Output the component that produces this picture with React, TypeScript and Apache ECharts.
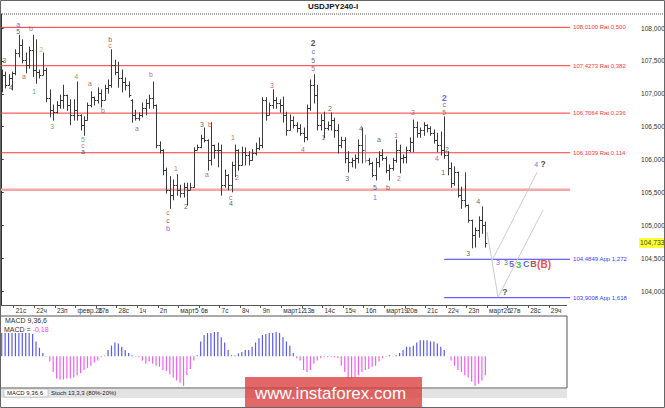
import React, { useEffect, useRef } from "react";
import * as echarts from "echarts";

const FONT = '"Liberation Sans", "DejaVu Sans", sans-serif';

// 4H bars of USDJPY, index 0 = Feb 20 evening ... 141 = Mar 23 20:00
const barOpen = [
  107.09, 107.29, 107.13, 107.24, 107.32, 107.62, 107.74, 107.51, 107.44, 107.67,
  107.36, 107.33, 107.29, 107.36, 106.94, 106.75, 106.72, 106.83, 106.91, 106.98,
  106.83, 106.68, 106.75, 106.68, 106.53, 106.6, 106.83, 106.95, 106.91, 107.01,
  106.91, 107.09, 107.13, 107.44, 107.33, 107.24, 107.18, 107.13, 106.91, 106.68,
  106.63, 106.68, 106.78, 106.86, 106.94, 106.83, 106.22, 106.15, 105.84, 105.54,
  105.46, 105.61, 105.54, 105.49, 105.58, 105.54, 105.58, 106.15, 106.19, 106.33,
  106.3, 105.99, 106.22, 106.15, 106.15, 105.61, 105.77, 105.61, 105.92, 106.15,
  105.92, 106.12, 106.07, 105.99, 106.1, 106.18, 106.22, 106.91, 106.68, 106.83,
  106.91, 106.86, 106.83, 106.68, 106.45, 106.6, 106.53, 106.48, 106.4, 106.34,
  106.78, 107.13, 106.98, 106.53, 106.6, 106.48, 106.53, 106.6, 106.45, 106.22,
  106.3, 106.02, 105.96, 105.99, 106.02, 106.22, 106.15, 105.99, 105.95, 105.77,
  105.96, 106.07, 106.02, 105.84, 105.87, 105.99, 106.15, 106.02, 106.04, 106.15,
  106.27, 106.5, 106.4, 106.45, 106.53, 106.48, 106.4, 106.3, 106.22, 106.15,
  106.07, 105.87, 105.64, 105.81, 105.46, 105.39, 105.31, 105.08, 104.85, 104.93,
  105.08, 105.01,
];
const barHigh = [
  107.36, 107.33, 107.29, 107.33, 107.67, 107.89, 107.82, 107.62, 107.71, 107.89,
  107.82, 107.36, 107.62, 107.39, 107.06, 106.83, 106.88, 106.98, 107.13, 106.98,
  106.91, 106.91, 107.18, 106.68, 106.65, 106.86, 107.03, 106.95, 107.09, 107.06,
  107.13, 107.21, 107.67, 107.51, 107.48, 107.36, 107.24, 107.18, 106.91, 106.75,
  106.71, 106.86, 106.91, 106.98, 107.18, 106.83, 106.27, 106.15, 105.87, 105.74,
  105.69, 105.77, 105.61, 105.64, 105.64, 105.64, 106.18, 106.22, 106.37, 106.48,
  106.3, 106.56, 106.22, 106.25, 106.22, 105.84, 105.77, 105.96, 106.22, 106.15,
  106.19, 106.18, 106.12, 106.15, 106.25, 106.33, 106.94, 106.94, 106.86, 107.06,
  106.94, 106.91, 106.95, 106.72, 106.68, 106.65, 106.56, 106.53, 106.48, 106.83,
  107.21, 107.29, 107.13, 106.68, 106.72, 106.57, 106.71, 106.63, 106.53, 106.34,
  106.33, 106.12, 106.02, 106.07, 106.3, 106.48, 106.37, 106.02, 105.96, 106.02,
  106.12, 106.15, 106.04, 105.92, 106.02, 106.3, 106.22, 106.07, 106.19, 106.33,
  106.6, 106.57, 106.48, 106.56, 106.53, 106.5, 106.45, 106.4, 106.42, 106.65,
  106.12, 105.95, 105.89, 105.81, 105.58, 105.8, 105.31, 105.08, 104.96, 105.13,
  105.28, 105.05,
];
const barLow = [
  107.03, 107.09, 107.13, 107.06, 107.29, 107.56, 107.47, 107.32, 107.39, 107.26,
  107.16, 107.24, 107.29, 106.88, 106.65, 106.6, 106.71, 106.78, 106.78, 106.75,
  106.53, 106.6, 106.6, 106.45, 106.37, 106.6, 106.8, 106.83, 106.86, 106.8,
  106.91, 107.01, 107.1, 107.29, 107.1, 107.03, 107.06, 106.95, 106.57, 106.6,
  106.6, 106.65, 106.68, 106.78, 106.78, 106.18, 106.1, 105.77, 105.49, 105.26,
  105.39, 105.46, 105.43, 105.43, 105.31, 105.54, 105.58, 106.15, 106.18, 106.27,
  105.84, 105.92, 106.02, 105.89, 105.46, 105.58, 105.54, 105.51, 105.74, 105.84,
  105.92, 105.92, 105.92, 105.99, 106.07, 106.15, 106.18, 106.6, 106.68, 106.78,
  106.78, 106.72, 106.57, 106.37, 106.45, 106.48, 106.42, 106.37, 106.27, 106.3,
  106.75, 106.86, 106.45, 106.45, 106.33, 106.45, 106.45, 106.34, 106.1, 106.18,
  105.95, 105.81, 105.89, 105.87, 105.95, 105.95, 105.96, 105.92, 105.74, 105.69,
  105.89, 105.99, 105.8, 105.69, 105.84, 105.96, 105.8, 105.95, 105.95, 106.12,
  106.12, 106.34, 106.34, 106.37, 106.42, 106.37, 106.25, 106.12, 106.07, 106.02,
  105.77, 105.58, 105.61, 105.43, 105.26, 105.28, 105.05, 104.66, 104.67, 104.82,
  104.88, 104.67,
];
const barClose = [
  107.29, 107.13, 107.24, 107.32, 107.62, 107.74, 107.51, 107.44, 107.67, 107.36,
  107.33, 107.29, 107.36, 106.94, 106.75, 106.72, 106.83, 106.91, 106.98, 106.83,
  106.68, 106.75, 106.68, 106.53, 106.6, 106.83, 106.95, 106.91, 107.01, 106.91,
  107.09, 107.13, 107.44, 107.33, 107.24, 107.18, 107.13, 106.98, 106.68, 106.63,
  106.68, 106.78, 106.86, 106.94, 106.83, 106.22, 106.15, 105.84, 105.54, 105.46,
  105.61, 105.54, 105.49, 105.58, 105.54, 105.58, 106.15, 106.19, 106.33, 106.3,
  105.99, 106.22, 106.15, 106.15, 105.61, 105.77, 105.61, 105.92, 106.15, 105.92,
  106.12, 106.07, 105.99, 106.1, 106.18, 106.22, 106.91, 106.68, 106.83, 106.91,
  106.86, 106.83, 106.68, 106.45, 106.6, 106.53, 106.48, 106.4, 106.34, 106.78,
  107.13, 106.98, 106.53, 106.6, 106.48, 106.53, 106.6, 106.45, 106.22, 106.3,
  106.02, 105.96, 105.99, 106.02, 106.22, 106.15, 105.99, 105.95, 105.77, 105.96,
  106.07, 106.02, 105.84, 105.87, 105.99, 106.15, 106.02, 106.04, 106.15, 106.27,
  106.5, 106.4, 106.45, 106.53, 106.48, 106.4, 106.3, 106.22, 106.15, 106.07,
  105.87, 105.64, 105.81, 105.46, 105.39, 105.31, 105.08, 104.85, 104.93, 105.08,
  105.01, 104.73,
];

// MACD 9,36,6 histogram, one value per bar
const macdHist = [
  0.22, 0.22, 0.22, 0.22, 0.22, 0.22, 0.22, 0.22, 0.22, 0.21,
  0.14, 0.08, 0.03, -0.005, -0.05, -0.15, -0.21, -0.22, -0.22, -0.21,
  -0.21, -0.2, -0.18, -0.16, -0.13, -0.11, -0.09, -0.06, -0.04, -0.01,
  0.005, 0.06, 0.1, 0.13, 0.12, 0.09, 0.06, 0.03, 0.01, -0.005,
  -0.01, -0.04, -0.07, -0.05, -0.07, -0.09, -0.1, -0.13, -0.14, -0.17,
  -0.2, -0.23, -0.25, -0.28, -0.18, -0.12, -0.04, 0.01, 0.14, 0.2,
  0.22, 0.22, 0.23, 0.23, 0.18, 0.13, 0.06, 0.01, 0.006, 0.025,
  0.04, 0.06, 0.06, 0.09, 0.13, 0.17, 0.2, 0.21, 0.22, 0.22,
  0.23, 0.22, 0.18, 0.14, 0.1, 0.03, -0.02, -0.04, -0.13, -0.15,
  -0.13, -0.07, -0.04, -0.02, -0.01, -0.01, -0.006, -0.01, -0.02, -0.09,
  -0.15, -0.21, -0.21, -0.2, -0.18, -0.15, -0.13, -0.12, -0.1, -0.09,
  -0.05, -0.02, 0.003, 0.01, 0.003, 0.01, 0.03, 0.06, 0.09, 0.09,
  0.1, 0.13, 0.15, 0.15, 0.15, 0.14, 0.14, 0.12, 0.09, 0.06,
  -0.003, -0.04, -0.09, -0.13, -0.15, -0.18, -0.2, -0.24, -0.28, -0.26,
  -0.23, -0.18,
];

const dayLabels = [
  "21с", "22ч", "23п", "февр.26", "27в", "28с", "1ч", "2п", "март5", "6в",
  "7с", "8ч", "9п", "март12", "13в", "14с", "15ч", "16п", "март19", "20в",
  "21с", "22ч", "23п", "март26", "27в", "28с", "29ч",
];
const FIRST_DAY_BAR = 4;
const BARS_PER_DAY = 6;
const SLOT_COUNT = 186;
const PINK_BAR = 106;

const priceTicks = [104, 104.5, 105, 105.5, 106, 106.5, 107, 107.5, 108];
const ratioLevels = [108.01, 107.4273, 106.7064, 106.1039];
const ratioNames = ["Rat 0,500", "Rat 0,382", "Rat 0,236", "Rat 0,114"];
const appLevels = [104.4849, 103.9008];
const appNames = ["App 1,272", "App 1,618"];
const pinkLevel = 105.54;
const lastPrice = 104.733;
const macdNow = "-0,18";

// projected paths (bar index, price)
const projectionDown = [[141.5, 104.9], [144.7, 103.91], [157.8, 105.23]];
const projectionUp = [[143.0, 104.47], [156.1, 105.81]];

// wave marks: [bar index, price, text]
const darkMarks: [number, number, string][] = [
  [0.7, 107.5, "3"], [2.7, 107.09, "4"], [4.8, 107.95, "5"], [31.6, 107.82, "b"],
  [23.7, 106.12, "a"], [53.7, 105.28, "2"], [48.5, 105.08, "c"], [58.4, 106.53, "3"],
  [66.8, 105.33, "4"], [90.8, 107.51, "5"], [95.7, 106.78, "2"], [100.7, 105.72, "3"],
  [104.7, 106.48, "4"], [110, 106.31, "a"], [108.8, 105.57, "5"], [112.6, 105.58, "b"],
  [129, 106.83, "c"], [129.8, 106.16, "2"], [128.7, 105.81, "1"], [138.9, 105.36, "4"],
  [136, 104.57, "3"], [147, 104.43, "3"],
];
const redMarks: [number, number, string][] = [
  [8.5, 108.0, "b"], [6.5, 107.26, "a"], [25.7, 107.16, "a"], [29.5, 106.74, "b"],
  [31.6, 107.73, "c"], [43.5, 107.3, "b"], [23.7, 106.22, "c"], [39.4, 106.47, "a"],
  [50.8, 105.87, "1"], [48.5, 105.2, "c"], [60.7, 106.53, "b"], [59.8, 105.77, "a"],
  [67.4, 106.33, "1"], [68.6, 105.73, "2"], [66.8, 105.43, "c"], [78.8, 107.12, "3"],
  [87.8, 106.15, "4"], [90.8, 107.38, "5"], [115, 106.37, "1"], [115.8, 105.72, "2"],
  [119.9, 106.71, "3"], [126.9, 106.02, "4"], [129, 106.71, "5"],
];
const blueMarks: [number, number, string][] = [
  [4.8, 108.05, "a"], [48.5, 104.96, "b"], [90.8, 107.64, "c"], [93.7, 106.33, "1"],
  [108.8, 105.43, "1"], [144.7, 104.43, "3"], [155.8, 105.93, "4"],
];
const greenMarks: [number, number, string][] = [
  [9.4, 107.04, "1"], [21.7, 107.27, "4"], [14.7, 106.5, "3"], [23.7, 106.31, "5"],
];
const oliveMarks: [number, number, string][] = [[11.5, 107.67, "2"]];
const blueBigMarks: [number, number, string][] = [
  [129, 106.94, "2"], [148.6, 104.41, "5"], [152.9, 104.41, "C"],
];
const greenBigMarks: [number, number, string][] = [[150.7, 104.41, "3"]];
const darkBigMarks: [number, number, string][] = [
  [90.8, 107.77, "2"], [157.8, 105.93, "?"], [146.7, 103.99, "?"],
];
const brownBigMarks: [number, number, string][] = [[155.0, 104.41, "B"]];
const redBigMarks: [number, number, string][] = [[158.1, 104.41, "(B)"]];

const fmt = (v: number, d: number) => v.toFixed(d).replace(".", ",");

const markSeries = (
  marks: [number, number, string][],
  color: string,
  size: number,
  weight: string
) => ({
  type: "scatter",
  xAxisIndex: 0,
  yAxisIndex: 0,
  silent: true,
  clip: false,
  symbol: "circle",
  symbolSize: 1,
  itemStyle: { color: "rgba(0,0,0,0)" },
  data: marks.map(([i, p, t]) => ({ value: [i, p], name: t })),
  label: {
    show: true,
    position: "inside",
    formatter: "{b}",
    color,
    fontSize: size,
    fontWeight: weight,
    fontFamily: FONT,
  },
  z: 6,
});

const levelSeries = (
  price: number,
  from: number,
  to: number,
  text: string,
  color: string,
  width: number
) => ({
  type: "line",
  xAxisIndex: 0,
  yAxisIndex: 0,
  silent: true,
  symbol: "none",
  showSymbol: false,
  clip: false,
  color,
  lineStyle: { color, width, type: "solid" },
  data: [
    [from, price],
    [to, price],
  ],
  endLabel: {
    show: text !== "",
    formatter: text,
    distance: 3,
    color,
    fontSize: 6,
    fontFamily: FONT,
  },
  z: 2,
});

const App: React.FC = () => {
  const chartRef = useRef<HTMLDivElement>(null);

  useEffect(() => {
    const chart = echarts.init(chartRef.current!, undefined, { renderer: "svg" });

    const ohlcData = barOpen.map((o, i) => [i, o, barHigh[i], barLow[i], barClose[i]]);
    const dayTicks = dayLabels.map((_, d) => FIRST_DAY_BAR + d * BARS_PER_DAY - 0.5);
    const lineEnd = 165.7;

    chart.setOption({
      animation: false,
      backgroundColor: "#ffffff",
      textStyle: { fontFamily: FONT },
      grid: [
        { left: 0, right: 27, top: 14, bottom: 103, outerBoundsMode: "none", containLabel: false },
        {
          left: 0, right: 98, top: 316, bottom: 20, outerBoundsMode: "none", containLabel: false,
          show: true, borderColor: "#555", borderWidth: 1, backgroundColor: "#fff",
        },
      ],
      xAxis: [
        {
          type: "value",
          gridIndex: 0,
          min: -0.5,
          max: SLOT_COUNT - 0.5,
          axisLine: { show: false },
          splitLine: { show: false },
          axisTick: { show: true, customValues: dayTicks, length: 3, lineStyle: { color: "#555" } },
          axisLabel: {
            show: true,
            customValues: dayTicks,
            formatter: (v: number) => dayLabels[Math.round((v - FIRST_DAY_BAR + 0.5) / BARS_PER_DAY)] ?? "",
            align: "left",
            padding: [0, 0, 0, 2],
            margin: 2,
            fontSize: 6.5,
            color: "#333",
            fontFamily: FONT,
          },
        },
        {
          type: "value",
          gridIndex: 1,
          min: -0.5,
          max: 164.8,
          show: false,
          splitLine: { show: false },
        },
      ],
      yAxis: [
        {
          type: "value",
          gridIndex: 0,
          position: "right",
          min: 103.79,
          max: 108.213,
          axisLine: { show: true, lineStyle: { color: "#333" } },
          splitLine: { show: false },
          axisTick: { show: true, customValues: priceTicks, length: 2, lineStyle: { color: "#333" } },
          axisLabel: {
            show: true,
            customValues: priceTicks,
            formatter: (v: number) => fmt(v, 3),
            fontSize: 6.6,
            margin: 3,
            color: "#333",
            fontFamily: FONT,
          },
        },
        {
          type: "value",
          gridIndex: 1,
          min: -0.3,
          max: 0.38,
          show: false,
          splitLine: { show: false },
        },
      ],
      series: [
        ...ratioLevels.map((p, k) =>
          levelSeries(p, -0.5, lineEnd, `${fmt(p, 4)} ${ratioNames[k]}`, "#ff3636", 1)
        ),
        ...appLevels.map((p, k) =>
          levelSeries(p, 129, lineEnd, `${fmt(p, 4)} ${appNames[k]}`, "#3c3cff", 1)
        ),
        levelSeries(pinkLevel, -0.5, lineEnd, "", "#f7a6a6", 2.5),
        {
          type: "line",
          xAxisIndex: 0,
          yAxisIndex: 0,
          data: projectionDown,
          symbol: "none",
          silent: true,
          lineStyle: { color: "#cbcbcb", width: 1 },
          z: 3,
        },
        {
          type: "line",
          xAxisIndex: 0,
          yAxisIndex: 0,
          data: projectionUp,
          symbol: "none",
          silent: true,
          lineStyle: { color: "#cbcbcb", width: 1 },
          z: 3,
        },
        {
          type: "custom",
          xAxisIndex: 0,
          yAxisIndex: 0,
          data: ohlcData,
          encode: { x: 0, y: [1, 2, 3, 4] },
          silent: true,
          z: 4,
          renderItem: (_params: any, api: any) => {
            const i = api.value(0);
            const o = api.coord([i, api.value(1)]);
            const h = api.coord([i, api.value(2)]);
            const l = api.coord([i, api.value(3)]);
            const c = api.coord([i, api.value(4)]);
            const x = Math.round(h[0]) + 0.5;
            const style = { stroke: i === PINK_BAR ? "#ff55ff" : "#3a3a3a", lineWidth: 1 };
            return {
              type: "group",
              children: [
                { type: "line", shape: { x1: x, y1: h[1] - 0.5, x2: x, y2: l[1] + 0.5 }, style },
                { type: "line", shape: { x1: x - 1.8, y1: Math.round(o[1]) + 0.5, x2: x, y2: Math.round(o[1]) + 0.5 }, style },
                { type: "line", shape: { x1: x, y1: Math.round(c[1]) + 0.5, x2: x + 1.8, y2: Math.round(c[1]) + 0.5 }, style },
              ],
            };
          },
        },
        markSeries(darkMarks, "#3c3c3c", 7, "normal"),
        markSeries(redMarks, "#b83c3c", 7, "normal"),
        markSeries(blueMarks, "#3c3cff", 7, "normal"),
        markSeries(greenMarks, "#2ea02e", 7, "normal"),
        markSeries(oliveMarks, "#a8a820", 7, "normal"),
        markSeries(blueBigMarks, "#3c3cff", 9, "bold"),
        markSeries(greenBigMarks, "#22a022", 9.5, "bold"),
        markSeries(darkBigMarks, "#222222", 8.5, "bold"),
        markSeries(brownBigMarks, "#a02828", 9, "bold"),
        markSeries(redBigMarks, "#e02020", 10, "bold"),
        {
          type: "scatter",
          xAxisIndex: 0,
          yAxisIndex: 0,
          silent: true,
          clip: false,
          symbolSize: 1,
          itemStyle: { color: "rgba(0,0,0,0)" },
          data: [{ value: [SLOT_COUNT - 0.5, lastPrice], name: fmt(lastPrice, 3) }],
          label: {
            show: true,
            position: "right",
            distance: 0.5,
            formatter: "{b}",
            backgroundColor: "#ffff00",
            padding: [2, 1, 1, 1],
            fontSize: 6.8,
            color: "#000",
            fontFamily: FONT,
          },
          z: 7,
        },
        {
          type: "bar",
          xAxisIndex: 1,
          yAxisIndex: 1,
          silent: true,
          barWidth: 1.2,
          data: macdHist.map((v, i) => [i, v]),
          itemStyle: {
            color: (p: any) => (p.value[1] >= 0 ? "#5a5af0" : "#f060f0"),
          },
        },
      ],
      graphic: [
        {
          type: "text",
          x: 333,
          y: 2,
          silent: true,
          style: {
            text: "USDJPY240-I",
            fontSize: 8,
            fontWeight: "bold",
            fontFamily: FONT,
            fill: "#111",
            align: "center",
            textAlign: "center",
          },
        },
        {
          type: "line",
          silent: true,
          shape: { x1: 0, y1: 14, x2: 665, y2: 14 },
          style: { stroke: "#a8a8a8", lineWidth: 2, lineDash: [1, 1] },
        },
        {
          type: "line",
          silent: true,
          shape: { x1: 0, y1: 305.5, x2: 567, y2: 305.5 },
          style: { stroke: "#555", lineWidth: 1 },
        },
        {
          type: "text",
          x: 5,
          y: 317,
          silent: true,
          style: { text: "MACD 9,36,6", fontSize: 7, fontFamily: FONT, fill: "#333" },
        },
        {
          type: "text",
          x: 4,
          y: 326,
          silent: true,
          style: {
            text: `{a|MACD = }{b|${macdNow}}`,
            rich: {
              a: { fontSize: 7, fontFamily: FONT, fill: "#333", color: "#333" },
              b: { fontSize: 7, fontFamily: FONT, fill: "#ff44ff", color: "#ff44ff" },
            },
          },
        },
        {
          type: "rect",
          silent: true,
          shape: { x: 0, y: 389, width: 567, height: 9 },
          style: { fill: "#e3e3e3" },
        },
        {
          type: "rect",
          silent: true,
          shape: { x: 4, y: 389, width: 44, height: 8 },
          style: { fill: "#ffffff", stroke: "#999", lineWidth: 0.5 },
        },
        {
          type: "text",
          x: 7,
          y: 390,
          silent: true,
          style: { text: "MACD 9,36,6", fontSize: 6, fontFamily: FONT, fill: "#222" },
        },
        {
          type: "text",
          x: 51,
          y: 390,
          silent: true,
          style: { text: "Stoch 13,3,3 (80%-20%)", fontSize: 6, fontFamily: FONT, fill: "#222" },
        },
        {
          type: "rect",
          silent: true,
          shape: { x: 245, y: 377, width: 177, height: 31 },
          style: { fill: "rgba(218,60,60,0.78)" },
          z: 10,
        },
        {
          type: "text",
          x: 255,
          y: 393,
          silent: true,
          z: 11,
          style: {
            text: "www.instaforex.com",
            fontSize: 17,
            fontFamily: FONT,
            fill: "#ffffff",
            verticalAlign: "middle",
            textVerticalAlign: "middle",
          },
        },
        {
          type: "rect",
          silent: true,
          shape: { x: 0.5, y: 0.5, width: 664, height: 407 },
          style: { fill: "none", stroke: "#666", lineWidth: 1 },
          z: 12,
        },
      ],
    });

    return () => {
      chart.dispose();
    };
  }, []);

  return (
    <div
      ref={chartRef}
      style={{ position: "fixed", left: 0, top: 0, width: 665, height: 408 }}
    />
  );
};

export default App;
